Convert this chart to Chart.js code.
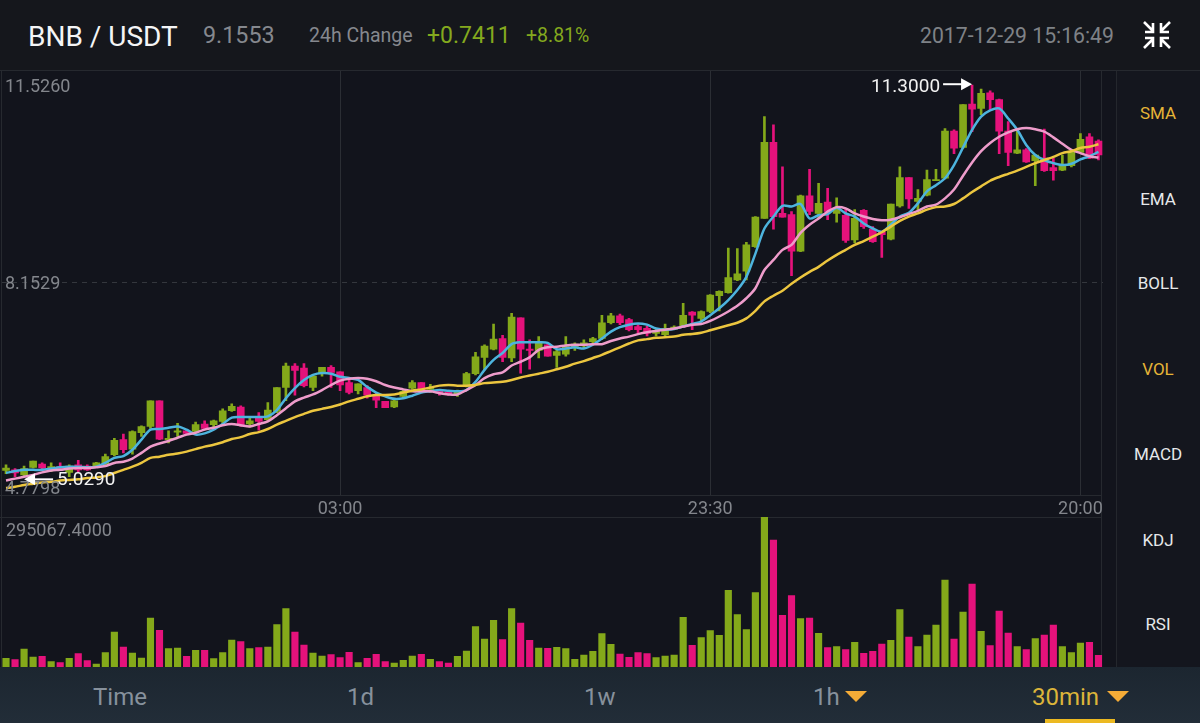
<!DOCTYPE html>
<html>
<head>
<meta charset="utf-8">
<title>BNB / USDT</title>
<script src="https://cdn.jsdelivr.net/npm/chart.js@4/dist/chart.umd.min.js"></script>
<style>
  html, body { margin: 0; padding: 0; width: 1200px; height: 723px; overflow: hidden; background: #12141c; font-family: Roboto, sans-serif; }
  .abs { position: absolute; white-space: nowrap; line-height: 1; }
  #header { position: absolute; left: 0; top: 0; width: 1200px; height: 70px; background: #15171c; }
  #sidebar { position: absolute; left: 1116px; top: 71px; width: 84px; height: 596px; background: #14161e; border-left: 1px solid #24272d; }
  #tabs { position: absolute; left: 0; top: 667px; width: 1200px; height: 56px; background: linear-gradient(#1c2630, #222d38); }
  .rule { position: absolute; background: #26292f; }
  .side { position: absolute; left: 1116px; width: 84px; text-align: center; font-size: 17px; line-height: 20px; color: #e6e8ea; }
  .side.on { color: #e6b437; }
  .tab { position: absolute; top: 684px; font-size: 24px; line-height: 26px; color: #87919c; }
  .tri { position: absolute; width: 0; height: 0; border-left: 11px solid transparent; border-right: 11px solid transparent; border-top: 11px solid #f5ac37; }
  canvas { position: absolute; left: 0; }
</style>
</head>
<body>
<div id="header"></div>
<div id="sidebar"></div>
<div id="tabs"></div>

<div class="rule" style="left:0;top:70px;width:1200px;height:1px"></div>
<div class="rule" style="left:0;top:495px;width:1102px;height:1px"></div>
<div class="rule" style="left:0;top:517px;width:1102px;height:1px"></div>
<div class="rule" style="left:1101px;top:70px;width:1px;height:597px"></div>
<div class="rule" style="left:1px;top:70px;width:1px;height:597px"></div>

<div class="abs" style="left:28px;top:23px;font-size:28px;color:#f4f5f6">BNB / USDT</div>
<div class="abs" style="left:203px;top:24px;font-size:23.3px;color:#85888e">9.1553</div>
<div class="abs" style="left:309px;top:26px;font-size:19.5px;color:#85888e">24h Change</div>
<div class="abs" style="left:427px;top:24px;font-size:23px;color:#84a91e">+0.7411</div>
<div class="abs" style="left:526px;top:26px;font-size:19.5px;color:#84a91e">+8.81%</div>
<div class="abs" style="left:920px;top:25px;font-size:21.2px;color:#7f8287">2017-12-29 15:16:49</div>
<svg class="abs" style="left:1143px;top:21px" width="28" height="28" viewBox="0 0 28 28" fill="none" stroke="#fff" stroke-width="2.6">
  <path d="M1 1L10 10M10 2V11H2"/>
  <path d="M27 1L18 10M18 2V11H26"/>
  <path d="M1 27L10 18M10 26V17H2"/>
  <path d="M27 27L18 18M18 26V17H26"/>
</svg>

<div class="side on" style="top:103px">SMA</div>
<div class="side" style="top:189px">EMA</div>
<div class="side" style="top:273px">BOLL</div>
<div class="side on" style="top:359px">VOL</div>
<div class="side" style="top:444px">MACD</div>
<div class="side" style="top:530px">KDJ</div>
<div class="side" style="top:614px">RSI</div>

<div class="tab" style="left:93px">Time</div>
<div class="tab" style="left:347px">1d</div>
<div class="tab" style="left:584px">1w</div>
<div class="tab" style="left:813px">1h</div>
<div class="tri" style="left:845px;top:691px"></div>
<div class="tab" style="left:1032px;color:#dcb53a">30min</div>
<div class="tri" style="left:1107px;top:691px"></div>
<div style="position:absolute;left:1045px;top:719px;width:70px;height:4px;background:#ecb921"></div>

<canvas id="chart-price" width="1103" height="446" style="top:71px;width:1103px;height:446px"></canvas>
<canvas id="chart-volume" width="1103" height="150" style="top:517px;width:1103px;height:150px"></canvas>

<script>
const opens = [
  5.17, 5.18, 5.10, 5.22, 5.27, 5.19, 5.23, 5.14, 5.26, 5.24,
  5.23, 5.28, 5.42, 5.66, 5.51, 5.77, 5.87, 6.28, 5.66, 5.78,
  5.80, 5.79, 5.91, 5.90, 5.95, 6.12, 6.18, 5.91, 6.03, 5.98,
  6.11, 6.49, 6.83, 6.80, 6.49, 6.71, 6.81, 6.74, 6.57, 6.44,
  6.49, 6.36, 6.27, 6.18, 6.35, 6.48, 6.57, 6.46, 6.44, 6.42,
  6.39, 6.52, 6.71, 6.97, 7.10, 7.27, 6.96, 7.60, 7.10, 7.08,
  7.17, 7.00, 7.02, 7.13, 7.15, 7.22, 7.27, 7.52, 7.63, 7.57,
  7.46, 7.43, 7.35, 7.33, 7.42, 7.47, 7.69, 7.59, 7.70, 7.95,
  8.00, 8.20, 8.34, 8.73, 9.18, 10.39, 9.26, 9.24, 8.66, 9.54,
  9.26, 9.44, 9.26, 9.23, 8.84, 9.31, 9.01, 8.96, 8.85, 9.38,
  9.83, 9.45, 9.55, 9.78, 9.82, 10.57, 10.31, 11.00, 10.93, 11.18,
  11.07, 10.57, 10.22, 10.27, 10.10, 10.14, 9.99, 9.95, 10.02, 10.23,
  10.48, 10.41,
];
const closes = [
  5.21, 5.13, 5.20, 5.32, 5.21, 5.23, 5.19, 5.24, 5.18, 5.18,
  5.29, 5.39, 5.65, 5.50, 5.79, 5.87, 6.28, 5.67, 5.68, 5.80,
  5.76, 5.90, 5.84, 5.96, 6.12, 6.19, 5.90, 5.96, 5.95, 6.13,
  6.49, 6.83, 6.76, 6.52, 6.67, 6.81, 6.73, 6.53, 6.41, 6.55,
  6.37, 6.29, 6.17, 6.28, 6.43, 6.57, 6.46, 6.49, 6.40, 6.38,
  6.43, 6.71, 6.98, 7.15, 7.26, 6.97, 7.61, 7.10, 7.08, 7.22,
  6.99, 7.06, 7.14, 7.18, 7.20, 7.27, 7.52, 7.63, 7.52, 7.41,
  7.41, 7.35, 7.38, 7.43, 7.45, 7.64, 7.64, 7.70, 7.96, 8.02,
  8.24, 8.30, 8.76, 9.20, 10.39, 9.21, 9.20, 8.66, 9.54, 9.29,
  9.42, 9.29, 9.33, 8.83, 9.18, 9.05, 8.81, 8.92, 9.41, 9.83,
  9.49, 9.50, 9.80, 9.80, 10.57, 10.30, 10.99, 10.92, 11.17, 11.07,
  10.57, 10.23, 10.27, 10.08, 10.19, 9.94, 9.94, 10.03, 10.24, 10.44,
  10.14, 10.19,
];
const highs = [
  5.26, 5.20, 5.24, 5.32, 5.29, 5.29, 5.29, 5.26, 5.33, 5.26,
  5.30, 5.43, 5.68, 5.75, 5.80, 5.88, 6.28, 6.28, 5.80, 5.92,
  5.82, 5.94, 5.96, 5.97, 6.15, 6.23, 6.20, 6.00, 6.09, 6.25,
  6.49, 6.88, 6.87, 6.87, 6.69, 6.81, 6.84, 6.74, 6.61, 6.55,
  6.52, 6.40, 6.27, 6.32, 6.45, 6.60, 6.57, 6.54, 6.46, 6.44,
  6.45, 6.73, 7.05, 7.17, 7.50, 7.32, 7.67, 7.60, 7.25, 7.30,
  7.19, 7.09, 7.30, 7.20, 7.25, 7.29, 7.64, 7.67, 7.66, 7.59,
  7.49, 7.47, 7.43, 7.50, 7.47, 7.83, 7.70, 7.71, 7.97, 8.03,
  8.71, 8.70, 8.80, 9.21, 10.80, 10.67, 10.00, 9.29, 9.55, 9.96,
  9.74, 9.66, 9.51, 9.34, 9.32, 9.32, 9.05, 8.97, 9.41, 10.00,
  9.83, 9.64, 9.95, 9.96, 10.61, 10.59, 10.99, 11.30, 11.24, 11.21,
  11.08, 10.72, 10.59, 10.29, 10.20, 10.60, 10.14, 10.19, 10.27, 10.53,
  10.53, 10.43,
];
const lows = [
  5.12, 5.07, 5.07, 5.21, 5.17, 5.15, 5.17, 5.07, 5.15, 5.17,
  5.22, 5.26, 5.40, 5.45, 5.43, 5.71, 5.84, 5.66, 5.61, 5.71,
  5.75, 5.78, 5.82, 5.86, 5.92, 6.11, 5.87, 5.86, 5.81, 5.95,
  6.09, 6.28, 6.37, 6.50, 6.44, 6.67, 6.49, 6.44, 6.39, 6.39,
  6.32, 6.17, 6.17, 6.17, 6.32, 6.46, 6.43, 6.41, 6.37, 6.37,
  6.35, 6.50, 6.69, 6.77, 7.09, 6.90, 6.90, 6.72, 6.78, 6.96,
  6.99, 6.81, 6.99, 7.08, 7.11, 7.18, 7.25, 7.50, 7.49, 7.39,
  7.35, 7.31, 7.31, 7.31, 7.41, 7.45, 7.41, 7.54, 7.68, 7.71,
  7.99, 8.19, 8.20, 8.72, 9.18, 9.01, 9.20, 8.27, 8.65, 9.24,
  9.18, 9.16, 9.12, 8.80, 8.79, 9.02, 8.80, 8.56, 8.84, 9.36,
  9.34, 9.29, 9.54, 9.78, 9.81, 10.21, 10.30, 10.56, 10.83, 10.91,
  10.21, 10.02, 10.21, 10.07, 9.70, 9.93, 9.79, 9.94, 10.00, 10.22,
  10.13, 10.11,
];

const maFast = [
  5.13, 5.16, 5.18, 5.18, 5.18, 5.20, 5.22, 5.23, 5.23, 5.22,
  5.23, 5.29, 5.37, 5.40, 5.50, 5.66, 5.82, 5.83, 5.85, 5.87,
  5.82, 5.74, 5.76, 5.82, 5.91, 6.01, 6.02, 6.02, 6.02, 6.03,
  6.13, 6.32, 6.48, 6.61, 6.69, 6.72, 6.71, 6.66, 6.64, 6.61,
  6.50, 6.41, 6.35, 6.31, 6.32, 6.36, 6.41, 6.43, 6.45, 6.44,
  6.43, 6.45, 6.58, 6.77, 6.93, 7.04, 7.18, 7.21, 7.21, 7.21,
  7.20, 7.10, 7.11, 7.13, 7.11, 7.17, 7.27, 7.38, 7.45, 7.49,
  7.51, 7.49, 7.43, 7.41, 7.42, 7.46, 7.50, 7.54, 7.64, 7.75,
  7.88, 8.04, 8.25, 8.62, 9.02, 9.21, 9.38, 9.37, 9.41, 9.18,
  9.23, 9.25, 9.35, 9.26, 9.21, 9.10, 9.02, 8.97, 9.08, 9.21,
  9.27, 9.42, 9.61, 9.71, 9.82, 10.03, 10.31, 10.59, 10.80, 10.90,
  10.93, 10.77, 10.59, 10.35, 10.19, 10.11, 10.06, 10.03, 10.05, 10.12,
  10.17, 10.24,
];
const maMid = [
  5.01, 5.04, 5.07, 5.10, 5.14, 5.17, 5.18, 5.20, 5.21, 5.21,
  5.22, 5.24, 5.29, 5.31, 5.36, 5.45, 5.55, 5.60, 5.64, 5.69,
  5.74, 5.77, 5.82, 5.85, 5.89, 5.91, 5.89, 5.87, 5.91, 5.95,
  6.05, 6.16, 6.27, 6.33, 6.38, 6.45, 6.53, 6.60, 6.63, 6.64,
  6.63, 6.59, 6.53, 6.49, 6.46, 6.43, 6.43, 6.43, 6.40, 6.38,
  6.38, 6.45, 6.53, 6.64, 6.70, 6.73, 6.84, 6.90, 6.97, 7.09,
  7.13, 7.14, 7.16, 7.17, 7.17, 7.18, 7.18, 7.23, 7.27, 7.30,
  7.34, 7.37, 7.39, 7.41, 7.43, 7.46, 7.49, 7.50, 7.55, 7.62,
  7.70, 7.79, 7.91, 8.07, 8.36, 8.52, 8.68, 8.76, 8.95, 9.08,
  9.18, 9.29, 9.36, 9.34, 9.26, 9.21, 9.17, 9.15, 9.16, 9.20,
  9.25, 9.30, 9.37, 9.40, 9.50, 9.64, 9.86, 10.07, 10.25, 10.38,
  10.48, 10.55, 10.60, 10.62, 10.60, 10.56, 10.47, 10.37, 10.27, 10.22,
  10.17, 10.15,
];
const maSlow = [
  4.89, 4.91, 4.94, 4.96, 4.98, 4.99, 5.01, 5.02, 5.03, 5.05,
  5.06, 5.08, 5.13, 5.18, 5.23, 5.29, 5.37, 5.39, 5.42, 5.44,
  5.47, 5.51, 5.55, 5.58, 5.62, 5.67, 5.70, 5.75, 5.78, 5.83,
  5.90, 5.96, 6.02, 6.07, 6.12, 6.15, 6.18, 6.22, 6.27, 6.31,
  6.35, 6.37, 6.37, 6.38, 6.41, 6.44, 6.46, 6.49, 6.52, 6.53,
  6.52, 6.52, 6.53, 6.56, 6.57, 6.58, 6.61, 6.65, 6.68, 6.71,
  6.74, 6.78, 6.82, 6.87, 6.91, 6.96, 7.01, 7.07, 7.13, 7.19,
  7.24, 7.26, 7.28, 7.29, 7.30, 7.33, 7.34, 7.36, 7.40, 7.44,
  7.48, 7.52, 7.59, 7.71, 7.86, 7.95, 8.03, 8.14, 8.24, 8.33,
  8.41, 8.51, 8.60, 8.68, 8.76, 8.82, 8.89, 8.96, 9.05, 9.14,
  9.21, 9.26, 9.32, 9.36, 9.37, 9.41, 9.50, 9.60, 9.69, 9.78,
  9.84, 9.89, 9.94, 10.00, 10.06, 10.11, 10.16, 10.22, 10.25, 10.30,
  10.32, 10.36,
];

const volumes = [
  17050, 14430, 35410, 19670, 20980, 10490, 8520, 17050, 26230, 12460,
  5900, 28200, 68850, 39340, 27540, 17700, 96390, 72130, 36060, 37370,
  20980, 32790, 32790, 16390, 28200, 53110, 49830, 36060, 38030, 39340,
  83270, 114750, 68850, 43280, 27540, 21640, 24260, 18360, 28850, 8520,
  17050, 24920, 10490, 7870, 13110, 21640, 24920, 15080, 10490, 7870,
  20980, 31470, 79340, 55080, 91800, 53770, 114750, 86550, 52460, 37370,
  36720, 38690, 36060, 15080, 23610, 30820, 65570, 44590, 25570, 19020,
  28200, 26230, 18360, 21640, 23610, 97700, 42620, 57700, 71470, 62290,
  150810, 102950, 73440, 146220, 295067, 249820, 101630, 140320, 95080, 96390,
  66230, 38030, 40000, 34100, 48520, 26880, 30820, 45240, 52460, 112780,
  59010, 40000, 62950, 82620, 171140, 55080, 108190, 163270, 70160, 41960,
  110160, 66880, 40000, 34100, 55730, 62950, 82620, 40000, 28200, 47210,
  48520, 22950,
];

const tickIndexes = [37, 78, 119];
const tickLabels = ["03:00", "23:30", "20:00"];
const priceTicks = [4.7798, 8.1529, 11.526];
const volumeMax = 295067.4;
const highMark = { index: 107, value: 11.3 };
const lowMark = { index: 2, value: 5.029 };

const UP = "#84a91a";
const DOWN = "#e5127b";
const GREY = "#83868c";

const categories = opens.map((_, i) => i);
const candleColors = opens.map((o, i) => (closes[i] >= o ? UP : DOWN));

function arrow(ctx, x1, x2, y) {
  const dir = x2 > x1 ? 1 : -1;
  ctx.strokeStyle = "#fff";
  ctx.fillStyle = "#fff";
  ctx.lineWidth = 2;
  ctx.beginPath();
  ctx.moveTo(x1, y);
  ctx.lineTo(x2 - dir * 8, y);
  ctx.stroke();
  ctx.beginPath();
  ctx.moveTo(x2, y);
  ctx.lineTo(x2 - dir * 11, y - 6);
  ctx.lineTo(x2 - dir * 11, y + 6);
  ctx.closePath();
  ctx.fill();
}

const priceLabels = {
  id: "priceLabels",
  afterDatasetsDraw(chart) {
    const { ctx, scales } = chart;
    const yScale = scales.y;
    ctx.save();
    ctx.textBaseline = "middle";

    // axis values sit inside the plot, the outer two are pulled in
    ctx.font = "18px Roboto";
    ctx.fillStyle = GREY;
    ctx.textAlign = "left";
    ctx.fillText(priceTicks[2].toFixed(4), 5, yScale.getPixelForValue(priceTicks[2]) + 16);
    ctx.fillText(priceTicks[1].toFixed(4), 5, yScale.getPixelForValue(priceTicks[1]) + 1);
    ctx.fillText(priceTicks[0].toFixed(4), 5, yScale.getPixelForValue(priceTicks[0]) - 6);

    const hx = scales.x.getPixelForValue(highMark.index);
    const hy = yScale.getPixelForValue(highMark.value) - 1;
    arrow(ctx, hx - 29, hx, hy);
    ctx.font = "19px Roboto";
    ctx.fillStyle = "#f2f2f2";
    ctx.textAlign = "right";
    ctx.fillText(highMark.value.toFixed(4), hx - 32, hy + 3);

    const lx = scales.x.getPixelForValue(lowMark.index);
    const ly = yScale.getPixelForValue(lowMark.value);
    arrow(ctx, lx + 29, lx, ly);
    ctx.fillStyle = "#f2f2f2";
    ctx.textAlign = "left";
    ctx.fillText(lowMark.value.toFixed(4), lx + 33, ly + 1);
    ctx.restore();
  },
};

const volumeLabel = {
  id: "volumeLabel",
  afterDatasetsDraw(chart) {
    const { ctx } = chart;
    ctx.save();
    ctx.font = "18px Roboto";
    ctx.fillStyle = GREY;
    ctx.textAlign = "left";
    ctx.textBaseline = "middle";
    ctx.fillText(chart.scales.y.max.toFixed(4), 6, 14);
    ctx.restore();
  },
};

function maLine(data, color) {
  return {
    type: "line",
    data,
    borderColor: color,
    borderWidth: 2.5,
    pointRadius: 0,
    tension: 0.3,
    order: 1,
  };
}

new Chart(document.getElementById("chart-price"), {
  data: {
    labels: categories,
    datasets: [
      maLine(maSlow, "#ecc63f"),
      maLine(maMid, "#ee9ccb"),
      maLine(maFast, "#4db4de"),
      {
        type: "bar",
        data: opens.map((o, i) => [o, closes[i]]),
        backgroundColor: candleColors,
        barThickness: 7,
        grouped: false,
        order: 2,
      },
      {
        type: "bar",
        data: lows.map((l, i) => [l, highs[i]]),
        backgroundColor: candleColors,
        barThickness: 2,
        grouped: false,
        order: 3,
      },
    ],
  },
  options: {
    responsive: false,
    animation: false,
    layout: { padding: { left: 1.5 } },
    plugins: { legend: { display: false }, tooltip: { enabled: false } },
    scales: {
      x: {
        offset: true,
        afterFit: (scale) => { scale.height = 22; },
        grid: {
          offset: false,
          drawTicks: false,
          color: (c) => (tickIndexes.includes(c.index) ? "#2b2e34" : "transparent"),
        },
        border: { display: false },
        ticks: {
          autoSkip: false,
          maxRotation: 0,
          padding: 4,
          color: GREY,
          font: { family: "Roboto", size: 18 },
          callback: (v) => {
            const at = tickIndexes.indexOf(v);
            return at >= 0 ? tickLabels[at] : "";
          },
        },
      },
      y: {
        min: priceTicks[0],
        max: priceTicks[2],
        afterBuildTicks: (scale) => { scale.ticks = priceTicks.map((value) => ({ value })); },
        afterFit: (scale) => { scale.width = 0; },
        grid: {
          drawTicks: false,
          color: (c) => (c.tick && c.tick.value === priceTicks[1] ? "#34373d" : "transparent"),
        },
        border: { display: false, dash: [5, 5] },
        ticks: { display: false },
      },
    },
  },
  plugins: [priceLabels],
});

new Chart(document.getElementById("chart-volume"), {
  type: "bar",
  data: {
    labels: categories,
    datasets: [
      {
        data: volumes,
        backgroundColor: candleColors,
        barThickness: 6.5,
      },
    ],
  },
  options: {
    responsive: false,
    animation: false,
    layout: { padding: { left: 1.5 } },
    plugins: { legend: { display: false }, tooltip: { enabled: false } },
    scales: {
      x: { display: false, offset: true },
      y: { display: false, min: 0, max: volumeMax },
    },
  },
  plugins: [volumeLabel],
});
</script>
</body>
</html>
